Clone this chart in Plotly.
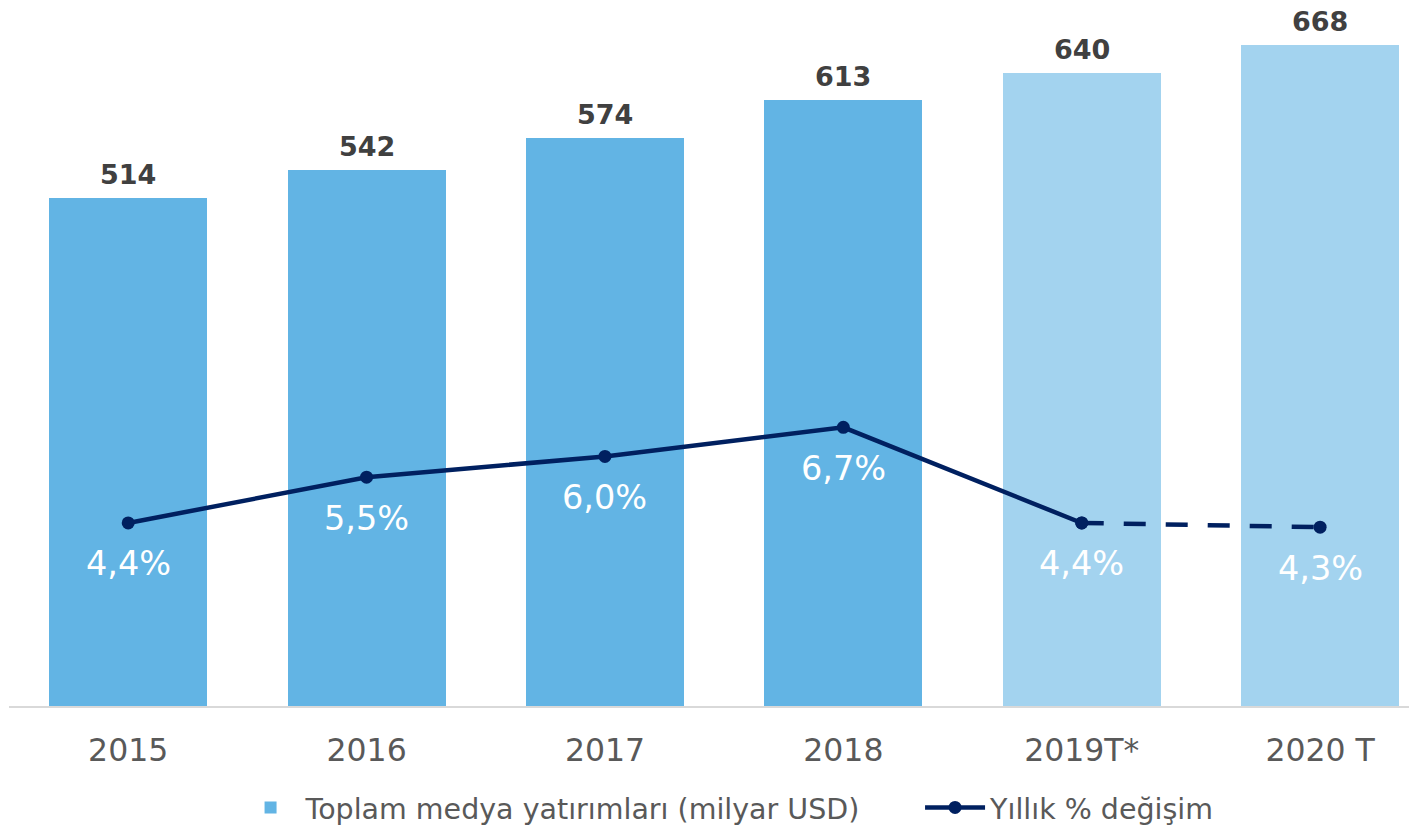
import plotly.graph_objects as go

categories = ["2015", "2016", "2017", "2018", "2019T*", "2020 T"]
investments = [514, 542, 574, 613, 640, 668]
pct_change = [4.4, 5.5, 6.0, 6.7, 4.4, 4.3]
pct_labels = ["4,4%", "5,5%", "6,0%", "6,7%", "4,4%", "4,3%"]
bar_colors = ["#62B4E4", "#62B4E4", "#62B4E4", "#62B4E4", "#A3D3EF", "#A3D3EF"]

FONT = "DejaVu Sans"
NAVY = "#002060"

fig = go.Figure()
fig.add_trace(go.Bar(
    x=list(range(len(categories))), y=investments, width=0.663,
    marker=dict(color=bar_colors, line=dict(width=0)),
    name="Toplam medya yatırımları (milyar USD)", legend="legend",
))
fig.add_trace(go.Scatter(
    x=list(range(5)), y=pct_change[:5], yaxis="y2", mode="lines+markers",
    line=dict(color=NAVY, width=4.5), marker=dict(size=13, color=NAVY),
    name="Yıllık % değişim", legend="legend2",
))
fig.add_trace(go.Scatter(
    x=[4, 5], y=pct_change[4:], yaxis="y2", mode="lines+markers",
    line=dict(color=NAVY, width=4.5, dash="22px,20px"), marker=dict(size=13, color=NAVY),
    showlegend=False,
))

annotations = []
for i, v in enumerate(investments):
    annotations.append(dict(x=i, y=v, xref="x", yref="y", text=f"<b>{v}</b>",
                            showarrow=False, yanchor="bottom", yshift=6,
                            font=dict(family=FONT, size=27, color="#404040")))
for i, (v, t) in enumerate(zip(pct_change, pct_labels)):
    annotations.append(dict(x=i, y=v, xref="x", yref="y2", text=t,
                            showarrow=False, yanchor="middle", yshift=-41,
                            font=dict(family=FONT, size=33.5, color="white")))

legend_font = dict(family=FONT, size=28.5, color="#595959")
fig.update_layout(
    width=1417, height=827,
    margin=dict(l=1, r=0, t=0, b=129),
    plot_bgcolor="white", paper_bgcolor="white",
    font=dict(family=FONT, color="#595959"),
    xaxis=dict(range=[-0.5, 5.44], tickmode="array", tickvals=list(range(6)),
               ticktext=categories, showgrid=False, zeroline=False,
               showline=True, linecolor="#D9D9D9", linewidth=2,
               tickfont=dict(family=FONT, size=31.5, color="#595959"), ticks="",
               ticklabelstandoff=15),
    yaxis=dict(range=[0, 705.8], visible=False, showgrid=False),
    yaxis2=dict(range=[0, 16.78], overlaying="y", side="right", visible=False, showgrid=False),
    legend=dict(orientation="h", x=0.160, xanchor="left", y=-0.146, yanchor="middle",
                font=legend_font, itemwidth=60),
    legend2=dict(orientation="h", x=0.6434, xanchor="left", y=-0.146, yanchor="middle",
                 font=legend_font, itemwidth=60),
    annotations=annotations,
    bargap=0,
)

fig.write_html("out.html")
